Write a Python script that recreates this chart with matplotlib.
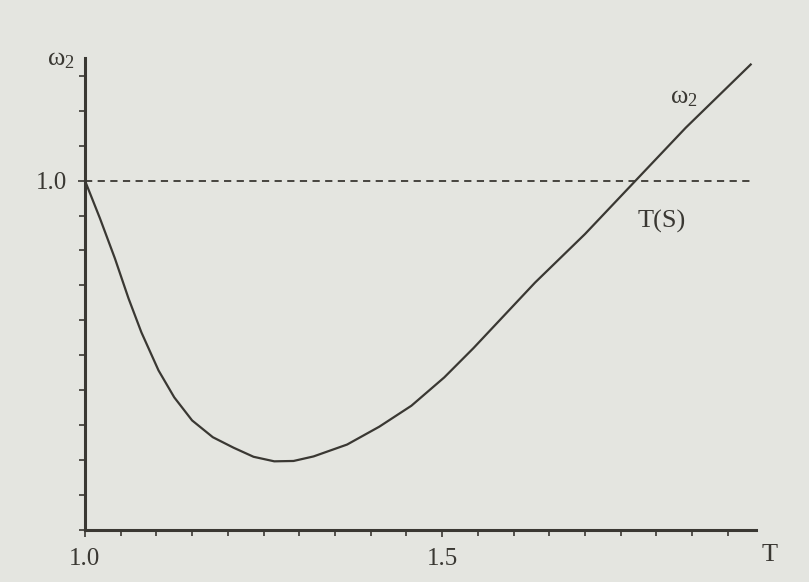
import numpy as np
import matplotlib.pyplot as plt
from matplotlib.ticker import MultipleLocator, FixedLocator

# values (corrected for the page tilt)
T_vals = [1.000, 1.021, 1.042, 1.061, 1.079, 1.103, 1.125, 1.150, 1.179, 1.208,
          1.236, 1.265, 1.292, 1.320, 1.367, 1.412, 1.457, 1.503, 1.544, 1.630,
          1.700, 1.770, 1.841, 1.932]
omega2 = [1.000, 0.892, 0.777, 0.663, 0.566, 0.457, 0.380, 0.314, 0.266, 0.236,
          0.210, 0.197, 0.198, 0.211, 0.245, 0.296, 0.356, 0.437, 0.521, 0.708,
          0.847, 0.998, 1.151, 1.332]
x_ticks = [1.0, 1.5]
x_tick_labels = ['1.0', '1.5']
y_ticks = [1.0]
y_tick_labels = ['1.0']
ref_level = 1.0

bg = '#e4e5e0'
ink = '#3a3833'

plt.rcParams['font.family'] = ['Liberation Serif', 'DejaVu Serif']
plt.rcParams['mathtext.fontset'] = 'stix'

fig = plt.figure(figsize=(8.09, 5.82), dpi=100, facecolor=bg)
ax = fig.add_axes([0.105, 0.089, 0.83, 0.811])
ax.set_facecolor('none')

ax.plot(T_vals, omega2, color=ink, linewidth=1.6, solid_joinstyle='round')
ax.plot([1.0, 1.933], [ref_level, ref_level], color=ink, linewidth=1.3,
        linestyle=(0, (4, 3)))

ax.set_xlim(1.0, 1.94)
ax.set_ylim(0, 1.35)

for side in ['top', 'right']:
    ax.spines[side].set_visible(False)
for side in ['left', 'bottom']:
    ax.spines[side].set_color(ink)
    ax.spines[side].set_linewidth(2.2)

ax.xaxis.set_major_locator(FixedLocator(x_ticks))
ax.set_xticklabels(x_tick_labels)
ax.xaxis.set_minor_locator(MultipleLocator(0.05))
ax.yaxis.set_major_locator(FixedLocator(y_ticks))
ax.set_yticklabels(y_tick_labels)
ax.yaxis.set_minor_locator(MultipleLocator(0.1))
ax.tick_params(which='both', direction='out', color=ink, width=1.2)
ax.tick_params(which='major', length=5, labelsize=18, labelcolor=ink, pad=8)
ax.tick_params(which='minor', length=4)

w2 = r'$\mathregular{ω_2}$'
ax.text(0.985, 1.345, w2, fontsize=19, color=ink, ha='right', va='center',
        clip_on=False)
ax.text(1.838, 1.237, w2, fontsize=19, color=ink, ha='center', va='center')
ax.text(1.807, 0.883, 'T(S)', fontsize=19, color=ink, ha='center', va='center')
ax.text(1.958, -0.07, 'T', fontsize=19, color=ink, ha='center', va='center',
        clip_on=False)

fig.savefig('out.png', dpi=100, facecolor=bg)
